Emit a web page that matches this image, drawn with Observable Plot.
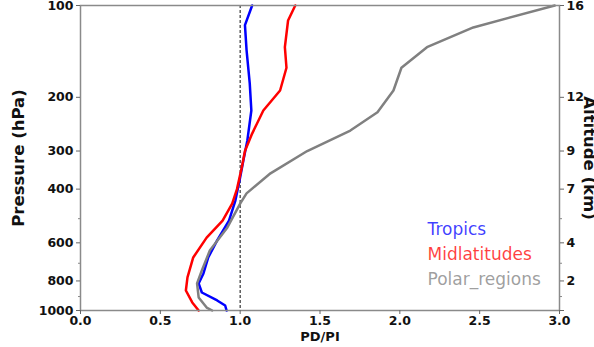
<!DOCTYPE html>
<html>
<head>
<meta charset="utf-8">
<script src="https://cdn.jsdelivr.net/npm/d3@7"></script>
<script src="https://cdn.jsdelivr.net/npm/@observablehq/plot@0.6"></script>
<style>
  html, body { margin: 0; padding: 0; background: #fff; }
  #chart svg { overflow: visible; }
</style>
</head>
<body>
<div id="chart"></div>
<script>
// Pressure levels (hPa) and PD/PI ratio per region
const tropicsP = [100, 116, 140, 180, 221, 277, 322, 366, 436, 507, 589, 670, 756, 815, 873, 927, 963, 1000];
const tropicsV = [1.075, 1.03, 1.04, 1.06, 1.07, 1.045, 1.02, 1.0, 0.97, 0.93, 0.856, 0.80, 0.77, 0.74, 0.76, 0.856, 0.906, 0.915];

const midP = [100, 112, 137, 160, 190, 221, 263, 300, 340, 400, 446, 507, 577, 670, 779, 860, 941, 1000];
const midV = [1.345, 1.30, 1.28, 1.29, 1.25, 1.145, 1.075, 1.03, 1.01, 0.98, 0.95, 0.89, 0.79, 0.706, 0.67, 0.66, 0.70, 0.74];

const polarP = [100, 118, 137, 160, 190, 224, 257, 300, 355, 413, 446, 534, 636, 739, 815, 906, 978, 1000];
const polarV = [2.97, 2.46, 2.17, 2.01, 1.96, 1.86, 1.69, 1.42, 1.19, 1.04, 1.0, 0.92, 0.81, 0.76, 0.73, 0.74, 0.79, 0.825];

const seriesNames = ["Tropics", "Midlatitudes", "Polar_regions"];
const seriesColors = ["#0000ff", "#ff0000", "#808080"];

const pressureTicks = [100, 200, 300, 400, 600, 800, 1000];
const altitudeLabels = ["16", "12", "9", "7", "4", "2", ""];
const minorTicks = [500, 700, 900];
const xTicks = [0, 0.5, 1.0, 1.5, 2.0, 2.5, 3.0];

const refLine = [1];

const build = (P, V, name) => P.map((p, i) => ({p, v: V[i], name}));
const data = [
  build(tropicsP, tropicsV, seriesNames[0]),
  build(midP, midV, seriesNames[1]),
  build(polarP, polarV, seriesNames[2])
];

const altMap = new Map(pressureTicks.map((p, i) => [p, altitudeLabels[i]]));

const font = "DejaVu Sans";

const legendOffsets = [-76, -51, -26];

const chart = Plot.plot({
  width: 594,
  height: 347,
  marginLeft: 80,
  marginRight: 35,
  marginTop: 5,
  marginBottom: 37,
  style: {fontFamily: font, fontSize: "12.5px", fontWeight: "bold", color: "#111", background: "#fff"},
  x: {domain: [0, 3]},
  y: {type: "log", domain: [100, 1000], reverse: true},
  marks: [
    Plot.ruleX(refLine, {stroke: "#333", strokeWidth: 1.2, strokeDasharray: "3,2"}),
    ...data.map((d, i) => Plot.line(d, {x: "v", y: "p", stroke: seriesColors[i], strokeWidth: 2.5})),
    Plot.frame({stroke: "#8a8a8a", strokeWidth: 1.5}),
    Plot.axisX({ticks: xTicks, tickFormat: d3.format(".1f"), tickSize: 4, tickPadding: 2, label: null, stroke: "#666"}),
    Plot.axisY({ticks: pressureTicks, tickFormat: d => String(d), tickSize: 4, tickPadding: 3, label: null, stroke: "#666"}),
    Plot.axisY({ticks: minorTicks, tickFormat: () => "", tickSize: 2, label: null, stroke: "#888"}),
    Plot.axisY({anchor: "right", ticks: pressureTicks, tickFormat: d => altMap.get(d), tickSize: 4, tickPadding: 3, label: null, stroke: "#666"}),
    Plot.axisY({anchor: "right", ticks: minorTicks, tickFormat: () => "", tickSize: 2, label: null, stroke: "#888"}),
    Plot.text(["PD/PI"], {frameAnchor: "bottom", dy: 30, fontSize: 13, fontWeight: "bold", fill: "#111"}),
    Plot.text(["Pressure (hPa)"], {frameAnchor: "left", textAnchor: "middle", dx: -62, rotate: -90, fontSize: 16.5, fontWeight: "bold", fill: "#111"}),
    Plot.text(["Altitude (km)"], {frameAnchor: "right", textAnchor: "middle", dx: 30, rotate: 90, fontSize: 16.5, fontWeight: "bold", fill: "#111"}),
    ...seriesNames.map((s, i) => Plot.text([s], {
      frameAnchor: "bottom-left", dx: 347, dy: legendOffsets[i], textAnchor: "start",
      fill: seriesColors[i], fontSize: 17, fontWeight: "normal", fillOpacity: 0.75
    }))
  ]
});

document.getElementById("chart").appendChild(chart);
</script>
</body>
</html>
